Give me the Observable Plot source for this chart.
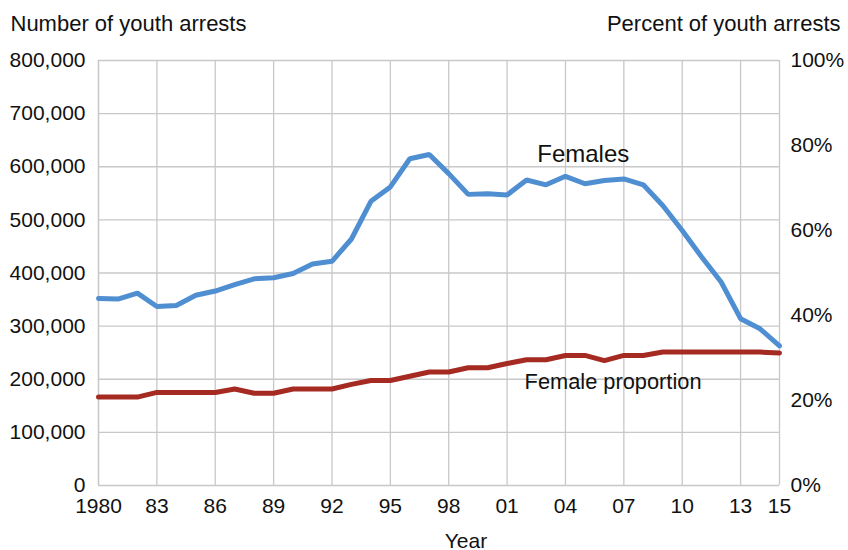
<!DOCTYPE html>
<html>
<head>
<meta charset="utf-8">
<script src="https://cdn.jsdelivr.net/npm/d3@7"></script>
<script src="https://cdn.jsdelivr.net/npm/@observablehq/plot@0.6"></script>
<style>
  html, body { margin: 0; padding: 0; background: #fff; }
  #chart svg { display: block; }
</style>
</head>
<body>
<div id="chart"></div>
<script>
const years = [1980,1981,1982,1983,1984,1985,1986,1987,1988,1989,1990,1991,1992,1993,1994,1995,1996,1997,1998,1999,2000,2001,2002,2003,2004,2005,2006,2007,2008,2009,2010,2011,2012,2013,2014,2015];
const femaleArrests = [352000,351000,362000,337000,339000,358000,366000,378000,389000,391000,399000,417000,422000,464000,535000,562000,615000,623000,587000,548000,549000,547000,575000,566000,582000,568000,574000,577000,566000,527000,480000,430000,383000,314000,295000,263000];
const femaleProportion = [20.8,20.8,20.8,21.9,21.9,21.9,21.9,22.7,21.7,21.7,22.7,22.7,22.7,23.8,24.7,24.7,25.7,26.7,26.7,27.7,27.7,28.7,29.6,29.6,30.6,30.6,29.4,30.6,30.6,31.4,31.4,31.4,31.4,31.4,31.4,31.2];

const xTicks = [1980,1983,1986,1989,1992,1995,1998,2001,2004,2007,2010,2013,2015];
const xTickLabels = ["1980","83","86","89","92","95","98","01","04","07","10","13","15"];
const yTicks = [0,100000,200000,300000,400000,500000,600000,700000,800000];
const yTickLabels = ["0","100,000","200,000","300,000","400,000","500,000","600,000","700,000","800,000"];
const pctTicks = [0,20,40,60,80,100];
const pctTickLabels = ["0%","20%","40%","60%","80%","100%"];

const countMax = 800000;
const pctMax = 100;
const pctToCount = p => p / pctMax * countMax;

const leftTitle = "Number of youth arrests";
const rightTitle = "Percent of youth arrests";
const xTitle = "Year";
const seriesLabels = ["Females", "Female proportion"];

const rows = years.map((y, i) => ({year: y, count: femaleArrests[i], pct: femaleProportion[i]}));

const font = "'Liberation Sans', Arial, Helvetica, sans-serif";
const gridColor = "#c8c8c8";

const chart = Plot.plot({
  width: 848,
  height: 550,
  marginLeft: 98,
  marginRight: 69,
  marginTop: 60,
  marginBottom: 65,
  style: {fontFamily: font, fontSize: "21px", color: "#111", background: "#fff"},
  x: {domain: [1980, 2015]},
  y: {domain: [0, countMax]},
  marks: [
    Plot.gridY(yTicks, {stroke: gridColor, strokeOpacity: 1, strokeWidth: 1.3}),
    Plot.gridX(xTicks, {stroke: gridColor, strokeOpacity: 1, strokeWidth: 1.3}),
    Plot.ruleX([1980], {stroke: gridColor, strokeWidth: 1.3}),
    Plot.axisY(yTicks, {anchor: "left", tickSize: 0, tickPadding: 13, label: null,
      tickFormat: d => yTickLabels[yTicks.indexOf(d)], fontSize: 21}),
    Plot.axisY(pctTicks.map(pctToCount), {anchor: "right", tickSize: 0, tickPadding: 11, label: null,
      tickFormat: d => pctTickLabels[pctTicks.map(pctToCount).indexOf(d)], fontSize: 21}),
    Plot.axisX(xTicks, {anchor: "bottom", tickSize: 0, tickPadding: 13, label: null,
      tickFormat: d => xTickLabels[xTicks.indexOf(d)], fontSize: 21}),
    Plot.line(rows, {x: "year", y: "count", stroke: "#4f8fd1", strokeWidth: 5, strokeLinejoin: "miter"}),
    Plot.line(rows, {x: "year", y: d => pctToCount(d.pct), stroke: "#a52a22", strokeWidth: 5, strokeLinejoin: "miter"}),
    Plot.text([seriesLabels[0]], {x: 2002.55, y: 624000, text: d => d, textAnchor: "start", fontSize: 24, fill: "#111"}),
    Plot.text([seriesLabels[1]], {x: 2001.9, y: 194000, text: d => d, textAnchor: "start", fontSize: 21.8, fill: "#111"}),
    Plot.text([leftTitle], {frameAnchor: "top-left", dx: -88, dy: -45, text: d => d, textAnchor: "start", fontSize: 22, fill: "#111"}),
    Plot.text([rightTitle], {frameAnchor: "top-right", dx: 61, dy: -45, text: d => d, textAnchor: "end", fontSize: 22, fill: "#111"}),
    Plot.text([xTitle], {frameAnchor: "bottom", dx: 27, dy: 62, text: d => d, fontSize: 21, fill: "#111"})
  ]
});
document.getElementById("chart").appendChild(chart);
</script>
</body>
</html>
